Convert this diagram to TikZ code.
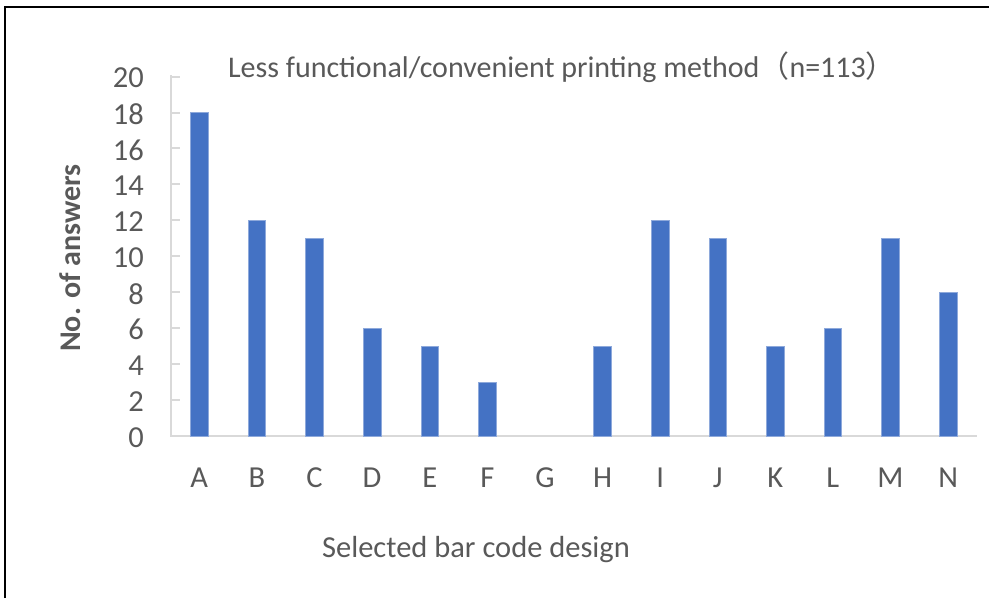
\documentclass[tikz,border=0pt]{standalone}
\usepackage{fontspec}
\setmainfont{Carlito}
\newfontfamily\cjk{Noto Sans CJK SC}
\definecolor{barblue}{HTML}{4472C4}
\definecolor{baredge}{HTML}{8EA9DB}
\definecolor{axisgray}{HTML}{D9D9D9}
\definecolor{labelgray}{HTML}{595959}
\begin{document}
\begin{tikzpicture}[x=1pt,y=-1pt,
  frameline/.style={line width=2pt,black},
  axisline/.style={line width=2pt,axisgray},
  ticklabel/.style={text=labelgray,font=\fontsize{30.5}{34}\selectfont,inner sep=0pt},
  charttitle/.style={text=labelgray,font=\fontsize{30}{34}\selectfont,inner sep=0pt},
  axistitle/.style={text=labelgray,font=\fontsize{30.5}{34}\selectfont,inner sep=0pt},
  barstyle/.style={fill=barblue,draw=baredge,line width=0.6pt}]
  \useasboundingbox (0,0) rectangle (989,598);
  % outer frame (top and left edges)
  \draw[frameline] (5,598) -- (5,7) -- (989,7);
  % plot area
  \coordinate (origin) at (171,436);
  \coordinate (ytop) at (171,75);
  \coordinate (xend) at (977,436);
  \draw[axisline] (ytop) -- (origin) -- (xend);
  % y ticks and labels
  \foreach \v in {0,2,...,20}{
    \pgfmathsetmacro{\yy}{436-17.97*\v}
    \draw[axisline] (171,\yy) -- (180,\yy);
    \node[ticklabel,anchor=east] (y\v) at (144,\yy+1.5) {\v};
  }
  % bars and category labels
  \foreach \lab/\val [count=\i from 0] in {A/18,B/12,C/11,D/6,E/5,F/3,G/0,H/5,I/12,J/11,K/5,L/6,M/11,N/8}{
    \pgfmathsetmacro{\xc}{199.3+57.6*\i}
    \ifnum\val>0
      \draw[barstyle] (\xc-8.8,436) rectangle (\xc+8.8,436-17.97*\val);
    \fi
    \node[ticklabel,anchor=base] (c\lab) at (\xc,487) {\lab};
  }
  % titles
  \node[charttitle,anchor=base] (title) at (562,77)
    {Less functional/convenient printing method{\cjk （}n=113{\cjk ）}};
  \node[axistitle,anchor=base] (xtitle) at (476,557) {Selected bar code design};
  \node[axistitle,font=\bfseries\fontsize{30}{34}\selectfont,rotate=90,anchor=center] (ytitle) at (70,258) {No. of answers};
\end{tikzpicture}
\end{document}
